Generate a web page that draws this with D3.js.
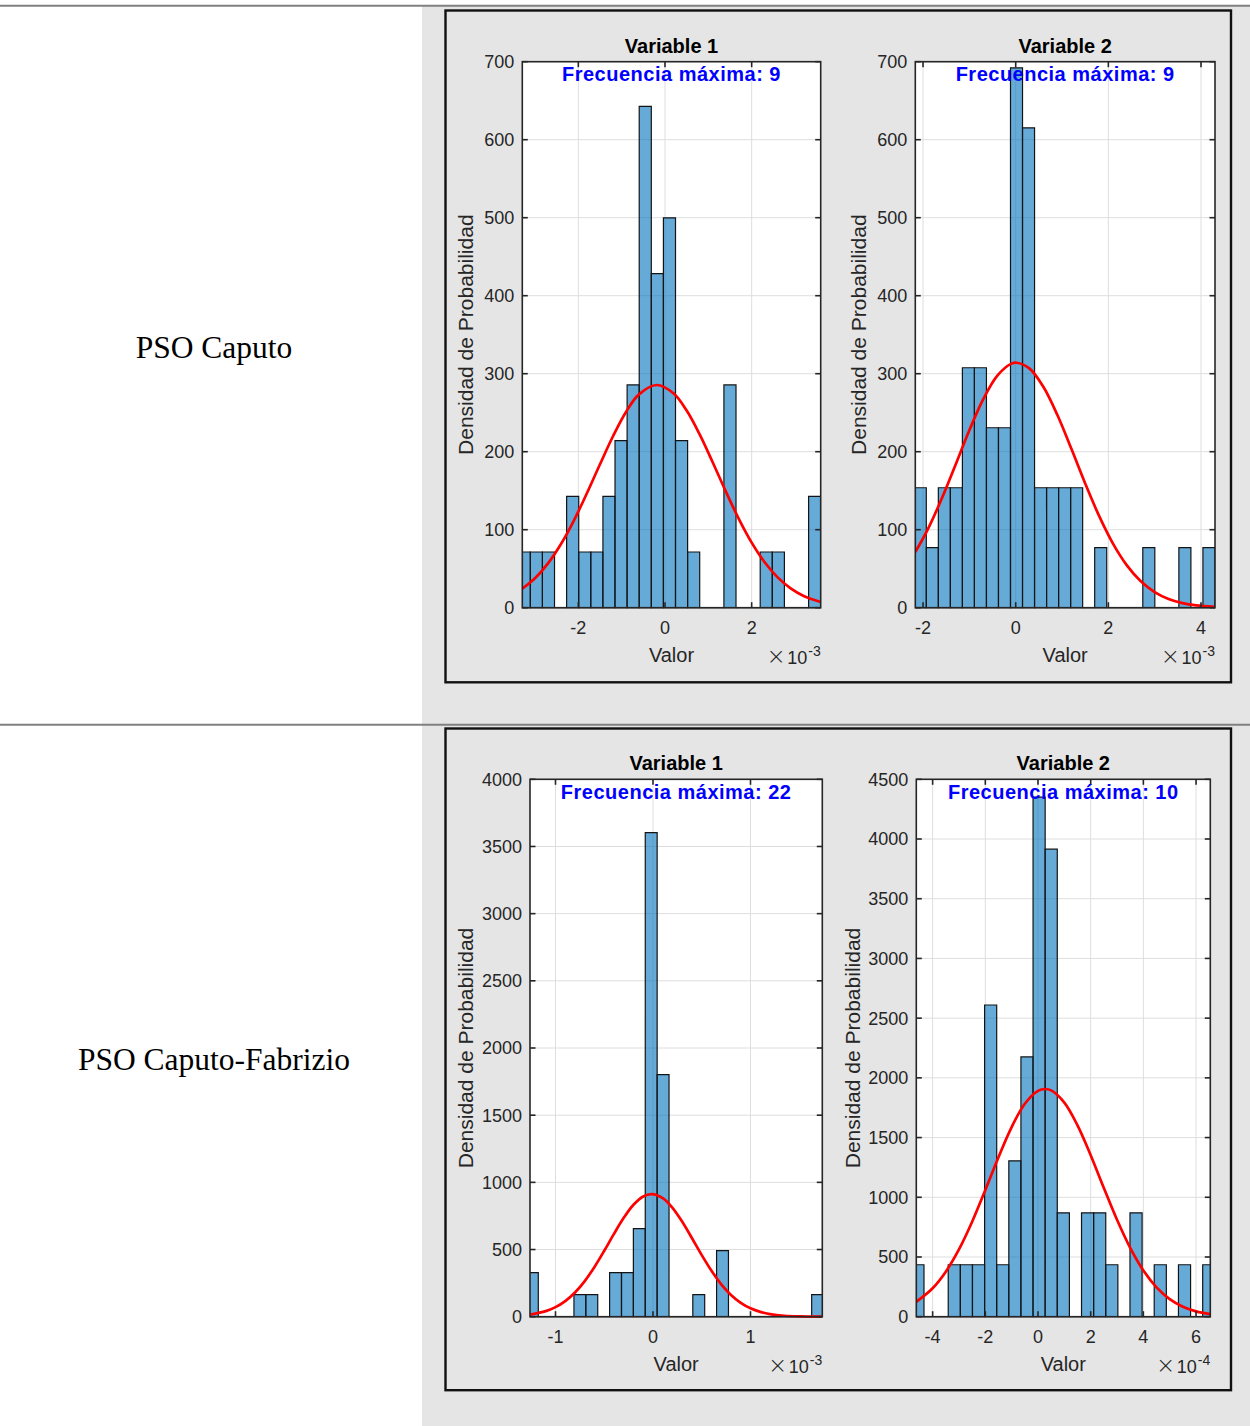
<!DOCTYPE html>
<html><head><meta charset="utf-8">
<script src="https://cdn.jsdelivr.net/npm/d3@7"></script>
<style>body{margin:0;background:#fff} svg{display:block}</style>
</head><body>
<svg id="c" width="1250" height="1426"></svg>
<script>
// ---------------- DATA ----------------
const rowLabels = ["PSO Caputo", "PSO Caputo-Fabrizio"];
const panelTitles = ["Variable 1", "Variable 2", "Variable 1", "Variable 2"];
const maxFreq = [9, 9, 22, 10];
const xExponent = ["-3", "-3", "-3", "-4"];
const yLabel = "Densidad de Probabilidad";
const xLabel = "Valor";

// Panel 1 (PSO Caputo, Variable 1), x in units of 1e-3
const p1XLim = [-3.293, 3.593];
const p1YLim = [0, 700];
const p1XTicks = [-2, 0, 2];
const p1YTicks = [0, 100, 200, 300, 400, 500, 600, 700];
const p1BinStart = -3.387, p1BinWidth = 0.2792;
const p1Density = [71.4, 71.4, 71.4, 0, 142.8, 71.4, 71.4, 142.8, 214.2, 285.6, 642.6, 428.4, 499.8, 214.2, 71.4, 0, 0, 285.6, 0, 0, 71.4, 71.4, 0, 0, 142.8];
const p1CurveX = [-3.293, -3.0, -2.7, -2.4, -2.1, -1.8, -1.5, -1.2, -0.9, -0.6, -0.19, 0.2, 0.5, 0.8, 1.1, 1.4, 1.7, 2.0, 2.3, 2.6, 2.9, 3.2, 3.593];
const p1CurveY = [24.4, 37.7, 56.8, 81.7, 112.1, 147.0, 183.9, 219.8, 250.9, 273.5, 285.5, 274.6, 252.7, 222.1, 186.4, 149.4, 114.3, 83.5, 58.3, 38.9, 24.7, 15.0, 7.3];

// Panel 2 (PSO Caputo, Variable 2), x in units of 1e-3
const p2XLim = [-2.167, 4.302];
const p2YLim = [0, 700];
const p2XTicks = [-2, 0, 2, 4];
const p2YTicks = [0, 100, 200, 300, 400, 500, 600, 700];
const p2BinStart = -2.189, p2BinWidth = 0.2596;
const p2Density = [153.8, 76.9, 153.8, 153.8, 307.6, 307.6, 230.7, 230.7, 692.1, 615.2, 153.8, 153.8, 153.8, 153.8, 0, 76.9, 0, 0, 0, 76.9, 0, 0, 76.9, 0, 76.9];
const p2CurveX = [-2.167, -1.9, -1.6, -1.3, -1.0, -0.7, -0.4, -0.1, 0.02, 0.3, 0.6, 0.9, 1.2, 1.5, 1.8, 2.1, 2.4, 2.7, 3.0, 3.3, 3.6, 3.9, 4.302];
const p2CurveY = [71.4, 100.2, 139.3, 183.0, 227.5, 267.4, 297.3, 312.6, 314.0, 306.5, 282.9, 247.0, 204.0, 159.3, 117.7, 82.2, 54.3, 33.9, 20.1, 11.2, 5.9, 3.0, 1.1];

// Panel 3 (PSO Caputo-Fabrizio, Variable 1), x in units of 1e-3
const p3XLim = [-1.2615, 1.7364];
const p3YLim = [0, 4000];
const p3XTicks = [-1, 0, 1];
const p3YTicks = [0, 500, 1000, 1500, 2000, 2500, 3000, 3500, 4000];
const p3BinStart = -1.2983, p3BinWidth = 0.1219;
const p3Density = [327.6, 0, 0, 0, 163.8, 163.8, 0, 327.6, 327.6, 655.2, 3603.6, 1801.8, 0, 0, 163.8, 0, 491.4, 0, 0, 0, 0, 0, 0, 0, 163.8];
const p3CurveX = [-1.2615, -1.1, -1.0, -0.9, -0.8, -0.7, -0.6, -0.5, -0.4, -0.3, -0.2, -0.1, -0.013, 0.1, 0.2, 0.3, 0.4, 0.5, 0.6, 0.7, 0.8, 0.9, 1.0, 1.1, 1.2, 1.35, 1.5, 1.7364];
const p3CurveY = [15.4, 41.4, 71.2, 116.4, 180.4, 265.3, 370.4, 490.6, 616.8, 735.9, 833.1, 895.1, 913.0, 883.0, 810.7, 706.5, 584.1, 458.4, 341.4, 241.2, 161.8, 103.0, 62.2, 35.6, 19.4, 7.0, 2.3, 0.3];

// Panel 4 (PSO Caputo-Fabrizio, Variable 2), x in units of 1e-4
const p4XLim = [-4.62, 6.541];
const p4YLim = [0, 4500];
const p4XTicks = [-4, -2, 0, 2, 4, 6];
const p4YTicks = [0, 500, 1000, 1500, 2000, 2500, 3000, 3500, 4000, 4500];
const p4BinStart = -4.788, p4BinWidth = 0.46;
const p4Density = [435, 0, 0, 435, 435, 435, 2610, 435, 1305, 2175, 4350, 3915, 870, 0, 870, 870, 435, 0, 870, 0, 435, 0, 435, 0, 435];
const p4CurveX = [-4.62, -4.0, -3.5, -3.0, -2.5, -2.0, -1.5, -1.0, -0.5, 0.0, 0.266, 0.5, 1.0, 1.5, 2.0, 2.5, 3.0, 3.5, 4.0, 4.5, 5.0, 5.5, 6.0, 6.541];
const p4CurveY = [124.6, 238.3, 377.2, 563.6, 795.5, 1060.5, 1335.3, 1587.7, 1783.1, 1891.4, 1906.7, 1894.8, 1792.9, 1602.2, 1352.4, 1078.1, 811.7, 577.2, 387.6, 246.0, 147.4, 83.4, 44.6, 21.2];

// ---------------- LAYOUT ----------------
const SANS = "'Liberation Sans', Arial, Helvetica, sans-serif";
const SERIF = "'Liberation Serif', 'Times New Roman', serif";
const svg = d3.select("#c");

svg.append("rect").attr("x", 0).attr("y", 0).attr("width", 1250).attr("height", 1426).attr("fill", "#fff");
svg.append("rect").attr("x", 422).attr("y", 6).attr("width", 828).attr("height", 1420).attr("fill", "#e5e5e5");
svg.append("line").attr("x1", 0).attr("x2", 1250).attr("y1", 5.7).attr("y2", 5.7).attr("stroke", "#808080").attr("stroke-width", 2);
svg.append("line").attr("x1", 0).attr("x2", 1250).attr("y1", 724.7).attr("y2", 724.7).attr("stroke", "#808080").attr("stroke-width", 2);

// figure frames
[[445.5, 10.5, 1231, 682.3], [445.5, 728.5, 1231, 1390.2]].forEach(f => {
  svg.append("rect").attr("x", f[0]).attr("y", f[1]).attr("width", f[2] - f[0]).attr("height", f[3] - f[1])
    .attr("fill", "#e5e5e5").attr("stroke", "#111").attr("stroke-width", 2.4);
});

// row labels
svg.append("text").attr("x", 214).attr("y", 357.7).attr("text-anchor", "middle")
  .attr("font-family", SERIF).attr("font-size", 31.5).attr("fill", "#000").text(rowLabels[0]);
svg.append("text").attr("x", 214).attr("y", 1070).attr("text-anchor", "middle")
  .attr("font-family", SERIF).attr("font-size", 31.5).attr("fill", "#000").text(rowLabels[1]);

const panels = [
  {box: {l: 522.3, r: 820.7, t: 61.7, b: 607.7}, ylabX: 472.5,
   xlim: p1XLim, ylim: p1YLim, xt: p1XTicks, yt: p1YTicks, bs: p1BinStart, bw: p1BinWidth, dens: p1Density, cx: p1CurveX, cy: p1CurveY},
  {box: {l: 915.3, r: 1215, t: 61.7, b: 607.7}, ylabX: 866,
   xlim: p2XLim, ylim: p2YLim, xt: p2XTicks, yt: p2YTicks, bs: p2BinStart, bw: p2BinWidth, dens: p2Density, cx: p2CurveX, cy: p2CurveY},
  {box: {l: 530, r: 822.3, t: 779.3, b: 1316.7}, ylabX: 472.5,
   xlim: p3XLim, ylim: p3YLim, xt: p3XTicks, yt: p3YTicks, bs: p3BinStart, bw: p3BinWidth, dens: p3Density, cx: p3CurveX, cy: p3CurveY},
  {box: {l: 916.3, r: 1210.3, t: 779.3, b: 1316.7}, ylabX: 859.5,
   xlim: p4XLim, ylim: p4YLim, xt: p4XTicks, yt: p4YTicks, bs: p4BinStart, bw: p4BinWidth, dens: p4Density, cx: p4CurveX, cy: p4CurveY}
];

panels.forEach((p, i) => {
  const B = p.box;
  const xs = d3.scaleLinear().domain(p.xlim).range([B.l, B.r]);
  const ys = d3.scaleLinear().domain(p.ylim).range([B.b, B.t]);
  const g = svg.append("g");
  const clipId = "clip" + i;
  svg.append("clipPath").attr("id", clipId).append("rect")
    .attr("x", B.l).attr("y", B.t - 2).attr("width", B.r - B.l).attr("height", B.b - B.t + 4);

  // plot background
  g.append("rect").attr("x", B.l).attr("y", B.t).attr("width", B.r - B.l).attr("height", B.b - B.t).attr("fill", "#fff");

  // grid
  g.append("g").selectAll("line").data(p.xt).join("line")
    .attr("x1", d => xs(d)).attr("x2", d => xs(d)).attr("y1", B.t).attr("y2", B.b)
    .attr("stroke", "#dedede").attr("stroke-width", 1);
  g.append("g").selectAll("line").data(p.yt).join("line")
    .attr("x1", B.l).attr("x2", B.r).attr("y1", d => ys(d)).attr("y2", d => ys(d))
    .attr("stroke", "#dedede").attr("stroke-width", 1);

  // bars
  const bars = p.dens.map((d, k) => ({x0: p.bs + k * p.bw, x1: p.bs + (k + 1) * p.bw, v: d}));
  g.append("g").attr("clip-path", `url(#${clipId})`).selectAll("path").data(bars).join("path")
    .attr("d", d => {
      const x0 = xs(Math.max(d.x0, p.xlim[0] - p.bw)), x1 = xs(d.x1);
      return `M${x0},${ys(0)}V${ys(d.v)}H${x1}V${ys(0)}Z`;
    })
    .attr("fill", "#0072bd").attr("fill-opacity", 0.6)
    .attr("stroke", "#141414").attr("stroke-width", 1.2).attr("stroke-linejoin", "miter");

  // fitted curve
  const pts = p.cx.map((x, k) => [x, p.cy[k]]);
  g.append("path").attr("clip-path", `url(#${clipId})`)
    .attr("d", d3.line().x(d => xs(d[0])).y(d => ys(d[1])).curve(d3.curveCatmullRom)(pts))
    .attr("fill", "none").attr("stroke", "#ff0000").attr("stroke-width", 2.7);

  // axes box
  g.append("rect").attr("x", B.l).attr("y", B.t).attr("width", B.r - B.l).attr("height", B.b - B.t)
    .attr("fill", "none").attr("stroke", "#262626").attr("stroke-width", 1.6);
  const TL = 5.5;
  const tk = g.append("g").attr("stroke", "#262626").attr("stroke-width", 1.6);
  p.xt.forEach(v => {
    tk.append("line").attr("x1", xs(v)).attr("x2", xs(v)).attr("y1", B.b).attr("y2", B.b - TL);
    tk.append("line").attr("x1", xs(v)).attr("x2", xs(v)).attr("y1", B.t).attr("y2", B.t + TL);
  });
  p.yt.forEach(v => {
    tk.append("line").attr("x1", B.l).attr("x2", B.l + TL).attr("y1", ys(v)).attr("y2", ys(v));
    tk.append("line").attr("x1", B.r).attr("x2", B.r - TL).attr("y1", ys(v)).attr("y2", ys(v));
  });

  // tick labels
  g.append("g").selectAll("text").data(p.xt).join("text")
    .attr("x", d => xs(d)).attr("y", B.b + 26).attr("text-anchor", "middle")
    .attr("font-family", SANS).attr("font-size", 18).attr("fill", "#262626").text(d => String(d));
  g.append("g").selectAll("text").data(p.yt).join("text")
    .attr("x", B.l - 8).attr("y", d => ys(d)).attr("dy", "0.36em").attr("text-anchor", "end")
    .attr("font-family", SANS).attr("font-size", 18).attr("fill", "#262626").text(d => String(d));

  const cxm = (B.l + B.r) / 2;
  // x label
  g.append("text").attr("x", cxm).attr("y", B.b + 54).attr("text-anchor", "middle")
    .attr("font-family", SANS).attr("font-size", 20).attr("fill", "#262626").text(xLabel);
  // exponent
  const ex = g.append("text").attr("x", B.r).attr("y", B.b + 56.5).attr("text-anchor", "end")
    .attr("font-family", SANS).attr("fill", "#262626");
  ex.append("tspan").attr("font-size", 23).attr("font-family", "'DejaVu Sans', sans-serif").attr("font-weight", 200).text("\u00d7");
  ex.append("tspan").attr("font-size", 18).attr("dx", 1.5).text("10");
  ex.append("tspan").attr("font-size", 14).attr("dx", 1).attr("dy", -8.5).text(xExponent[i]);
  // y label
  g.append("text").attr("transform", `translate(${p.ylabX},${(B.t + B.b) / 2}) rotate(-90)`)
    .attr("text-anchor", "middle").attr("font-family", SANS).attr("font-size", 21).attr("fill", "#262626").text(yLabel);
  // title
  g.append("text").attr("x", cxm).attr("y", B.t - 9).attr("text-anchor", "middle")
    .attr("font-family", SANS).attr("font-size", 20).attr("font-weight", "bold").attr("fill", "#000").text(panelTitles[i]);
  // max frequency annotation
  g.append("text").attr("x", cxm).attr("y", B.t + 19.3).attr("text-anchor", "middle")
    .attr("font-family", SANS).attr("font-size", 20).attr("font-weight", "bold").attr("letter-spacing", 0.5)
    .attr("fill", "#0000ff").text("Frecuencia máxima: " + maxFreq[i]);
});
</script>
</body></html>
